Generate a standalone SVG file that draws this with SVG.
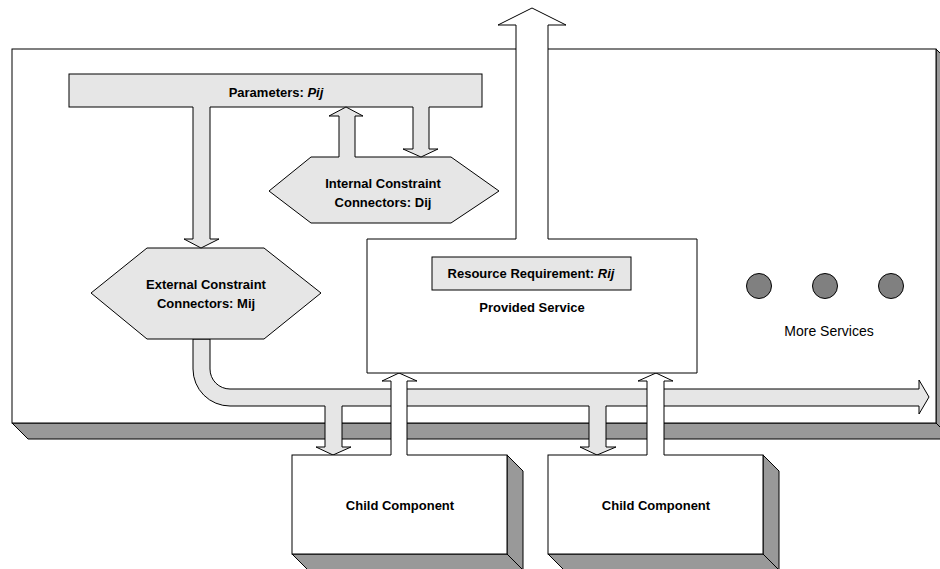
<svg xmlns="http://www.w3.org/2000/svg" width="940" height="569" viewBox="0 0 940 569">
<style>
.ln{stroke:#000;stroke-width:1;fill:none}
.gf{fill:#e6e6e6}
.wf{fill:#fff}
.sh{fill:#999;stroke:#000;stroke-width:1}
.box{fill:#fff;stroke:#000;stroke-width:1}
.gbox{fill:#e6e6e6;stroke:#000;stroke-width:1}
text{font-family:"Liberation Sans",Arial,sans-serif;font-size:13px;font-weight:bold;text-anchor:middle;fill:#000}
.nb{font-weight:normal;font-size:14px}
</style>
<g id="main">
<polygon class="sh" points="936,49 952,65 952,439 936,423"/>
<polygon class="sh" points="12,423 936,423 952,439 28,439"/>
<rect class="box" x="12" y="49" width="924" height="374"/>
</g>
<g id="connectors">
<path class="gbox" d="M193,339 L193,369 A37,37 0 0 0 230,406 L325,406 L325,447 L316,447 L333,455 L351,447 L342,447 L342,406 L589,406 L589,447 L580,447 L597,455 L616,447 L606,447 L606,406 L919,406 L919,414 L929,397 L919,380 L919,389 L230,389 A20,20 0 0 1 210,369 L210,339 Z"/>
</g>
<g id="child1">
<polygon class="sh" points="507,455 523,471 523,570 507,554"/>
<polygon class="sh" points="292,554 507,554 523,570 308,570"/>
<rect class="box" x="292" y="455" width="215" height="99"/>
<text x="400" y="510">Child Component</text>
</g>
<g id="child2">
<polygon class="sh" points="763,455 779,471 779,570 763,554"/>
<polygon class="sh" points="548,554 763,554 779,570 564,570"/>
<rect class="box" x="548" y="455" width="215" height="99"/>
<text x="656" y="510">Child Component</text>
</g>
<g id="upconnectors">
<polygon class="wf" points="391,456 391,381 382,381 399,373 417,381 407,381 407,456"/>
<polyline class="ln" points="391,455 391,381 382,381 399,373 417,381 407,381 407,455"/>
<polygon class="wf" points="647,456 647,381 638,381 656,373 673,381 664,381 664,456"/>
<polyline class="ln" points="647,455 647,381 638,381 656,373 673,381 664,381 664,455"/>
</g>
<g id="provided">
<path class="box" d="M367,239 L516,239 L516,25 L498,25 L532,8 L566,25 L548,25 L548,239 L697,239 L697,373 L367,373 Z"/>
<rect class="gbox" x="432" y="257" width="199" height="33"/>
<text x="531" y="278">Resource Requirement: <tspan font-style="italic">Rij</tspan></text>
<text x="532" y="312">Provided Service</text>
</g>
<g id="more">
<circle cx="759" cy="286" r="12.5" fill="#808080" stroke="#000"/>
<circle cx="825" cy="286" r="12.5" fill="#808080" stroke="#000"/>
<circle cx="891" cy="286" r="12.5" fill="#808080" stroke="#000"/>
<text class="nb" x="829" y="336">More Services</text>
</g>
<g id="parameters">
<rect class="gbox" x="69" y="74" width="413" height="33"/>
<text x="276" y="97">Parameters: <tspan font-style="italic">Pij</tspan></text>
</g>
<g id="internal">
<polygon class="gbox" points="311,157 451,157 499,191 451,223 311,223 269,191"/>
<text x="383" y="188">Internal Constraint</text>
<text x="383" y="207">Connectors: Dij</text>
</g>
<g id="external">
<polygon class="gbox" points="147,248 264,248 321,293 264,339 147,339 91,293"/>
<text x="206" y="289">External Constraint</text>
<text x="206" y="308">Connectors: Mij</text>
</g>
<g id="paramconnectors">
<polygon class="gf" points="193,106 193,239 184,239 201,248 219,239 210,239 210,106"/>
<polyline class="ln" points="193,107 193,239 184,239 201,248 219,239 210,239 210,107"/>
<polygon class="gf" points="339,158 339,116 329,116 346,107 363,116 355,116 355,158"/>
<polyline class="ln" points="339,157 339,116 329,116 346,107 363,116 355,116 355,157"/>
<polygon class="gf" points="413,106 413,149 403,149 421,157 438,149 429,149 429,106"/>
<polyline class="ln" points="413,107 413,149 403,149 421,157 438,149 429,149 429,107"/>
</g>
</svg>
